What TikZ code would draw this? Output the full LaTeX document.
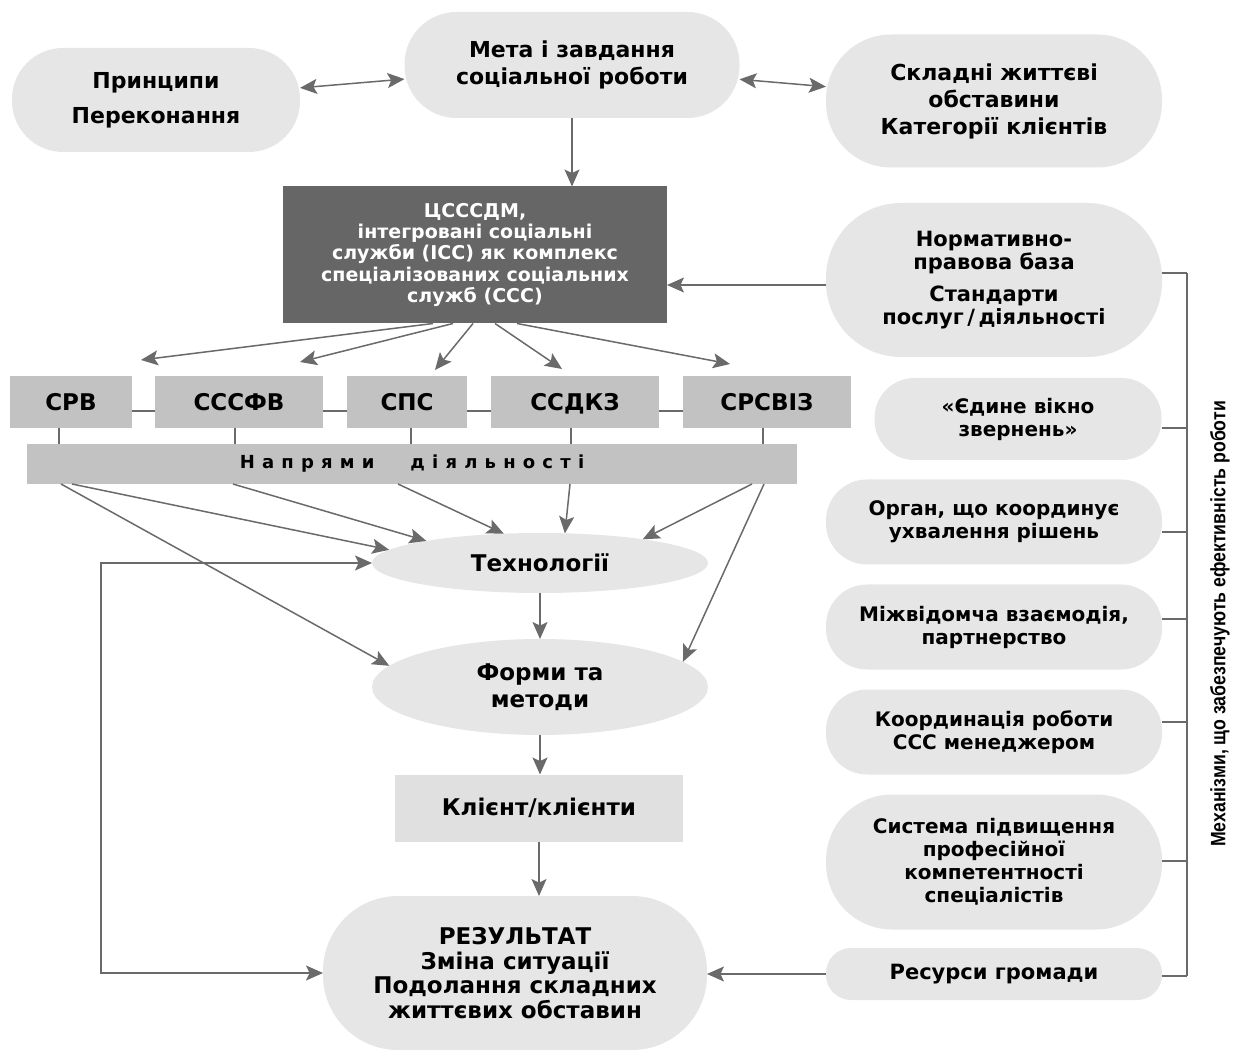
\documentclass[tikz,border=0pt]{standalone}
\usepackage{fontspec}
\setmainfont{DejaVu Sans}
\newfontfamily\sidefont{Liberation Sans}[FakeStretch=0.85]
\newfontfamily\spacedfont{DejaVu Sans}[LetterSpace=40]
\usetikzlibrary{shapes.geometric,arrows.meta,positioning}
\definecolor{softgray}{HTML}{E6E6E6}
\definecolor{clientgray}{HTML}{E0E0E0}
\definecolor{unitgray}{HTML}{C2C2C2}
\definecolor{centregray}{HTML}{666666}
\definecolor{linegray}{HTML}{6A6A6A}

\begin{document}
\begin{tikzpicture}[
    x=0.5pt,
    y=-0.5pt,
    soft node/.style={rectangle,fill=softgray,align=center,inner sep=0pt,outer sep=0pt,font=\bfseries\fontsize{11}{13.5}\selectfont},
    side node/.style={soft node,minimum width=168pt,minimum height=42.5pt,rounded corners=20.5pt,font=\bfseries\fontsize{10}{11.5}\selectfont},
    oval node/.style={ellipse,fill=softgray,inner sep=0pt,outer sep=0pt,align=center,font=\bfseries\fontsize{11.5}{13.5}\selectfont},
    unit node/.style={rectangle,fill=unitgray,minimum height=26pt,inner sep=0pt,outer sep=0pt,text height=8.3pt,text depth=0pt,font=\bfseries\fontsize{11.5}{13}\selectfont},
    centre node/.style={rectangle,fill=centregray,text=white,align=center,inner sep=0pt,outer sep=0pt,minimum width=192pt,minimum height=68.5pt,font=\bfseries\fontsize{9.5}{10.7}\selectfont},
    line/.style={draw=linegray,line width=0.75pt},
    link/.style={line,-{Stealth[length=8.5pt,width=7.5pt,inset=1.8pt]}},
    both link/.style={line,{Stealth[length=8.5pt,width=7.5pt,inset=1.8pt]}-{Stealth[length=8.5pt,width=7.5pt,inset=1.8pt]}}
]
\useasboundingbox (0,0) rectangle (1246,1052);

% Top row
\node[soft node,minimum width=144pt,minimum height=52pt,rounded corners=25.5pt] (principles) at (156,100) {Принципи\\[4pt]Переконання};
\node[soft node,minimum width=167.5pt,minimum height=53pt,rounded corners=26pt] (goal) at (572,65) {Мета і завдання\\соціальної роботи};
\node[soft node,minimum width=168pt,minimum height=66.5pt,rounded corners=32.5pt] (circs) at (994,101) {Складні життєві\\обставини\\Категорії клієнтів};

% Centre
\node[centre node] (centre) at (475,255) {ЦСССДМ,\\інтегровані соціальні\\служби (ІСС) як комплекс\\спеціалізованих соціальних\\служб (ССС)};
\node[soft node,minimum width=168pt,minimum height=77pt,rounded corners=37.5pt,font=\bfseries\fontsize{10.5}{11.5}\selectfont] (norms) at (994,280) {Нормативно-\\правова база\\[4.5pt]Стандарти\\послуг\,/\,діяльності};

% Services
\node[unit node,minimum width=61pt] (srv) at (71,402) {СРВ};
\node[unit node,minimum width=84pt] (sssfv) at (239,402) {СССФВ};
\node[unit node,minimum width=60pt] (sps) at (407,402) {СПС};
\node[unit node,minimum width=84pt] (ssdkz) at (575,402) {ССДКЗ};
\node[unit node,minimum width=84pt] (srsviz) at (767,402) {СРСВІЗ};
\node[unit node,minimum width=385pt,minimum height=20pt,text height=6.5pt,text depth=1.5pt,font=\spacedfont\bfseries\fontsize{9}{10}\selectfont] (fields) at (412,464) {Напрями\qquad діяльності};

% Chain
\node[oval node,minimum width=168pt,minimum height=30pt] (tech) at (540,563) {Технології};
\node[oval node,minimum width=168pt,minimum height=48pt] (forms) at (540,687) {Форми та\\методи};
\node[rectangle,fill=clientgray,inner sep=0pt,outer sep=0pt,minimum width=144pt,minimum height=33.5pt,font=\bfseries\fontsize{11.5}{13}\selectfont] (client) at (539,808) {Клієнт/клієнти};
\node[soft node,minimum width=192pt,minimum height=77pt,rounded corners=37.5pt,font=\bfseries\fontsize{11.5}{12.3}\selectfont] (result) at (515,973) {РЕЗУЛЬТАТ\\Зміна ситуації\\Подолання складних\\життєвих обставин};

% Mechanisms
\node[side node,minimum width=143.5pt,minimum height=41pt,rounded corners=20pt] (window) at (1018,419) {«Єдине вікно\\звернень»};
\node[side node] (organ) at (994,522) {Орган, що координує\\ухвалення рішень};
\node[side node] (inter) at (994,627) {Міжвідомча взаємодія,\\партнерство};
\node[side node] (coord) at (994,732) {Координація роботи\\ССС менеджером};
\node[side node,minimum height=67.5pt,rounded corners=33pt] (system) at (994,862) {Система підвищення\\професійної\\компетентності\\спеціалістів};
\node[side node,minimum height=26pt,rounded corners=12.5pt,font=\bfseries\fontsize{10.5}{12}\selectfont] (resources) at (994,974) {Ресурси громади};
\node[rotate=90,font=\sidefont\bfseries\fontsize{10.4}{11}\selectfont] (mechanisms) at (1220,624) {Механізми, що забезпечують ефективність роботи};

% Goal links
\draw[both link] (principles) -- (goal);
\draw[both link] (goal) -- (circs);
\draw[link] (goal.south) -- (goal.south |- centre.north);
\draw[link] ([yshift=-2.5pt]norms.west) -- ([yshift=-2.5pt]norms.west -| centre.east);

% Centre to services
\foreach \unit/\sx/\ex/\ey in {srv/-21/35/8, sssfv/-11/30.5/7, sps/-1/14/3, ssdkz/10/-6.5/3.5, srsviz/21/-18.5/6}
    \draw[link] ([xshift=\sx pt]centre.south) -- ([xshift=\ex pt,yshift=\ey pt]\unit.north);

% Services joined
\foreach \a/\b in {srv/sssfv, sssfv/sps, sps/ssdkz, ssdkz/srsviz}
    \draw[line] ([yshift=-4.5pt]\a.east) -- ([yshift=-4.5pt]\b.west);

% Services to fields
\foreach \unit/\sx in {srv/-6, sssfv/-2, sps/2, ssdkz/-2, srsviz/-2}
    \draw[line] ([xshift=\sx pt]\unit.south) -- ([xshift=\sx pt]\unit.south |- fields.north);

% Fields to technologies and forms
\foreach \sx/\a in {-170/175, -89.5/169, -7/141, 79/50, 170/13}
    \draw[link] ([xshift=\sx pt]fields.south) -- (tech.\a);
\draw[link] ([xshift=-175.5pt]fields.south) -- (forms.172);
\draw[link] ([xshift=176pt]fields.south) -- (forms.10);

% Chain
\draw[link] (tech) -- (forms);
\draw[link] (forms.south) -- (forms.south |- client.north);
\draw[link] (client.south) -- (client.south |- result.north);

% Feedback loop
\coordinate (loop) at (101,563);
\draw[both link] (tech.west) -- (loop) |- (result.west);

% Resources
\draw[link] (resources.west) -- (resources.west -| result.east);

% Bracket
\coordinate (spine) at (1187,0);
\foreach \n/\dy in {norms/3.5, window/-4.5, organ/-5, inter/4, coord/5, system/0.5, resources/-1}
    \draw[line] ([yshift=\dy pt]\n.east) -- ([yshift=\dy pt]\n.east -| spine);
\draw[line] ([yshift=3.5pt]norms.east -| spine) -- ([yshift=-1pt]resources.east -| spine);

\end{tikzpicture}
\end{document}
